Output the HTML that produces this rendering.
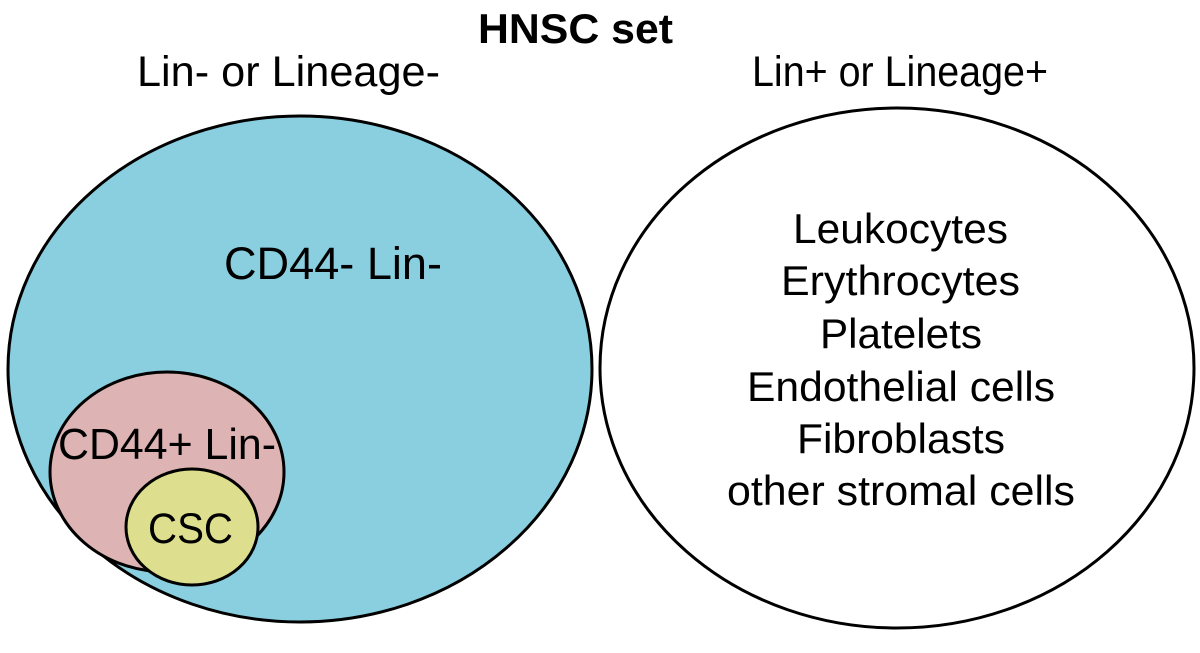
<!DOCTYPE html>
<html><head><meta charset="utf-8"><style>
html,body{margin:0;padding:0;background:#fff;}
svg{display:block;}
text{font-family:"Liberation Sans",Arial,sans-serif;fill:#000;}
</style></head><body>
<svg width="1200" height="653" viewBox="0 0 1200 653" xmlns="http://www.w3.org/2000/svg">
<rect width="1200" height="653" fill="#fff"/>
<ellipse cx="300" cy="369" rx="292" ry="253" fill="#8acfdf" stroke="#000" stroke-width="3"/>
<ellipse cx="167" cy="472" rx="117" ry="100" fill="#ddb3b3" stroke="#000" stroke-width="3"/>
<ellipse cx="192" cy="527" rx="66" ry="58" fill="#dedf8e" stroke="#000" stroke-width="3"/>
<ellipse cx="897" cy="368" rx="297" ry="260" fill="#fff" stroke="#000" stroke-width="3"/>
<text x="478" y="43" font-size="42" font-weight="bold" textLength="195" lengthAdjust="spacingAndGlyphs">HNSC set</text>
<text x="137" y="86" font-size="43" textLength="303" lengthAdjust="spacingAndGlyphs">Lin- or Lineage-</text>
<text x="752" y="86" font-size="43" textLength="296" lengthAdjust="spacingAndGlyphs">Lin+ or Lineage+</text>
<text x="224" y="279" font-size="45" textLength="218" lengthAdjust="spacingAndGlyphs">CD44- Lin-</text>
<text x="58" y="459" font-size="44" textLength="218" lengthAdjust="spacingAndGlyphs">CD44+ Lin-</text>
<text x="148" y="543" font-size="43" textLength="85" lengthAdjust="spacingAndGlyphs">CSC</text>
<text x="793" y="243" font-size="42" textLength="215" lengthAdjust="spacingAndGlyphs">Leukocytes</text>
<text x="781" y="295" font-size="42" textLength="239" lengthAdjust="spacingAndGlyphs">Erythrocytes</text>
<text x="820" y="348" font-size="42" textLength="162" lengthAdjust="spacingAndGlyphs">Platelets</text>
<text x="747" y="401" font-size="42" textLength="308" lengthAdjust="spacingAndGlyphs">Endothelial cells</text>
<text x="797" y="453" font-size="42" textLength="208" lengthAdjust="spacingAndGlyphs">Fibroblasts</text>
<text x="727" y="505" font-size="42" textLength="348" lengthAdjust="spacingAndGlyphs">other stromal cells</text>
</svg>
</body></html>
